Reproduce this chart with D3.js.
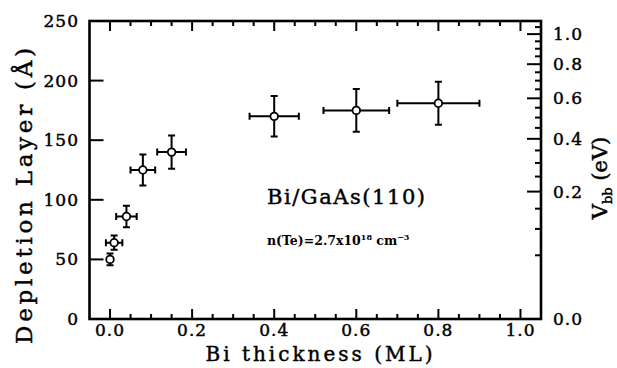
<!DOCTYPE html>
<html>
<head>
<meta charset="utf-8">
<script src="https://cdn.jsdelivr.net/npm/d3@7"></script>
<style>
  body { margin: 0; background: #fff; }
  text { font-family: "DejaVu Serif", serif; fill: #000; stroke: #000; stroke-width: 0.45px; }
</style>
</head>
<body>
<svg id="chart" width="617" height="368"></svg>
<script>
// Depletion layer vs Bi coverage, right axis is band bending (W ~ sqrt(Vbb))
var thickness    = [0.00, 0.01, 0.04, 0.08, 0.15, 0.40, 0.60, 0.80];
var thicknessErr = [0, 0.02, 0.025, 0.03, 0.035, 0.06, 0.08, 0.10];
var depletion    = [50, 64, 86, 125, 140, 170, 175, 181];
var depletionErr = [5, 6, 9, 13, 14, 17, 18, 18];

var xTicks = [0.0, 0.2, 0.4, 0.6, 0.8, 1.0];
var yTicks = [0, 50, 100, 150, 200, 250];
var vTicks = [0.0, 0.2, 0.4, 0.6, 0.8, 1.0];
var W0 = 239; // width (A) at Vbb = 1 eV

var data = thickness.map((t, i) => ({x: t, xe: thicknessErr[i], y: depletion[i], ye: depletionErr[i]}));

// plot frame (note: "top" is reserved on window, so use prefixed names)
var pL = 89.5, pR = 541, pT = 21, pB = 319;

var x = d3.scaleLinear().domain([-0.05, 1.05]).range([pL, pR]);
var y = d3.scaleLinear().domain([0, 250]).range([pB, pT]);
var vy = v => y(W0 * Math.sqrt(v));

var svg = d3.select('#chart');

var isMajor = (v, step) => Math.abs(v / step - Math.round(v / step)) < 1e-6;
var xMinor = d3.range(0, 1.05, 0.05).map(d => +d.toFixed(2)).filter(d => !isMajor(d, 0.2));
var vMinor = d3.range(0.05, 1.1, 0.05).map(d => +d.toFixed(2))
    .filter(d => !isMajor(d, 0.2) && W0 * Math.sqrt(d) < 250);

// ticks (all pointing inward)
var ticks = svg.append('g')
    .attr('stroke', '#000')
    .attr('stroke-width', 2);

function tickLines(vals, f) {
    ticks.append('g').selectAll('line')
        .data(vals)
        .join('line')
        .attr('x1', d => f(d)[0])
        .attr('y1', d => f(d)[1])
        .attr('x2', d => f(d)[2])
        .attr('y2', d => f(d)[3]);
}
tickLines(xTicks, d => [x(d), pB, x(d), pB - 10]);
tickLines(xMinor, d => [x(d), pB, x(d), pB - 5]);
tickLines(xTicks, d => [x(d), pT, x(d), pT + 10]);
tickLines(xMinor, d => [x(d), pT, x(d), pT + 5]);
tickLines(yTicks, d => [pL, y(d), pL + 14, y(d)]);
tickLines(vTicks, d => [pR, vy(d), pR - 14, vy(d)]);
tickLines(vMinor, d => [pR, vy(d), pR - 6, vy(d)]);

// frame
svg.append('rect')
    .attr('x', pL).attr('y', pT)
    .attr('width', pR - pL).attr('height', pB - pT)
    .attr('fill', 'none')
    .attr('stroke', '#000')
    .attr('stroke-width', 2.6);

// tick labels
var fmt = d3.format('.1f');
svg.append('g').selectAll('text')
    .data(xTicks)
    .join('text')
    .attr('x', d => x(d))
    .attr('y', 336)
    .attr('text-anchor', 'middle')
    .style('font-size', '17px')
    .style('letter-spacing', '1px')
    .text(d => fmt(d));

svg.append('g').selectAll('text')
    .data(yTicks)
    .join('text')
    .attr('x', 79)
    .attr('y', d => y(d) + 6)
    .attr('text-anchor', 'end')
    .style('font-size', '17px')
    .style('letter-spacing', '1px')
    .text(d => d);

svg.append('g').selectAll('text')
    .data(vTicks)
    .join('text')
    .attr('x', 553)
    .attr('y', d => vy(d) + 6)
    .style('font-size', '17px')
    .style('letter-spacing', '1px')
    .text(d => fmt(d));

// axis titles
svg.append('text')
    .attr('x', 319)
    .attr('y', 361)
    .attr('text-anchor', 'middle')
    .attr('textLength', 227)
    .attr('lengthAdjust', 'spacing')
    .style('font-size', '20px')
    .text('Bi thickness (ML)');

svg.append('text')
    .attr('transform', 'translate(32,196) rotate(-90)')
    .attr('text-anchor', 'middle')
    .attr('textLength', 296)
    .attr('lengthAdjust', 'spacing')
    .style('font-size', '23px')
    .text('Depletion Layer (Å)');

var vt = svg.append('text')
    .attr('transform', 'translate(607,178) rotate(-90)')
    .attr('text-anchor', 'middle')
    .style('font-size', '21px');
vt.append('tspan').text('V');
vt.append('tspan').attr('dy', 5).style('font-size', '13px').text('bb');
vt.append('tspan').attr('dy', -5).text(' (eV)');

// annotations
svg.append('text')
    .attr('x', 267)
    .attr('y', 204)
    .attr('textLength', 158)
    .attr('lengthAdjust', 'spacing')
    .style('font-size', '21px')
    .text('Bi/GaAs(110)');

var nt = svg.append('text')
    .attr('x', 267)
    .attr('y', 245)
    .style('font-size', '12.5px')
    .style('font-weight', 'bold')
    .style('stroke-width', 0);
nt.append('tspan').text('n(Te)=2.7x10');
nt.append('tspan').attr('dy', -5).style('font-size', '8px').text('18');
nt.append('tspan').attr('dy', 5).text('  cm');
nt.append('tspan').attr('dy', -5).style('font-size', '8px').text('−3');

// error bars
var bars = svg.append('g')
    .attr('stroke', '#000')
    .attr('stroke-width', 2)
    .attr('fill', 'none');

bars.selectAll('path.ey')
    .data(data)
    .join('path')
    .attr('class', 'ey')
    .attr('d', d => {
        var cx = x(d.x), y1 = y(d.y - d.ye), y2 = y(d.y + d.ye);
        return `M${cx},${y1}V${y2}M${cx - 3.5},${y1}H${cx + 3.5}M${cx - 3.5},${y2}H${cx + 3.5}`;
    });

bars.selectAll('path.ex')
    .data(data.filter(d => d.xe > 0))
    .join('path')
    .attr('class', 'ex')
    .attr('d', d => {
        var cy = y(d.y), x1 = x(d.x - d.xe), x2 = x(d.x + d.xe);
        return `M${x1},${cy}H${x2}M${x1},${cy - 3.5}V${cy + 3.5}M${x2},${cy - 3.5}V${cy + 3.5}`;
    });

svg.append('g').selectAll('circle')
    .data(data)
    .join('circle')
    .attr('cx', d => x(d.x))
    .attr('cy', d => y(d.y))
    .attr('r', 3.8)
    .attr('fill', '#fff')
    .attr('stroke', '#000')
    .attr('stroke-width', 1.8);
</script>
</body>
</html>
